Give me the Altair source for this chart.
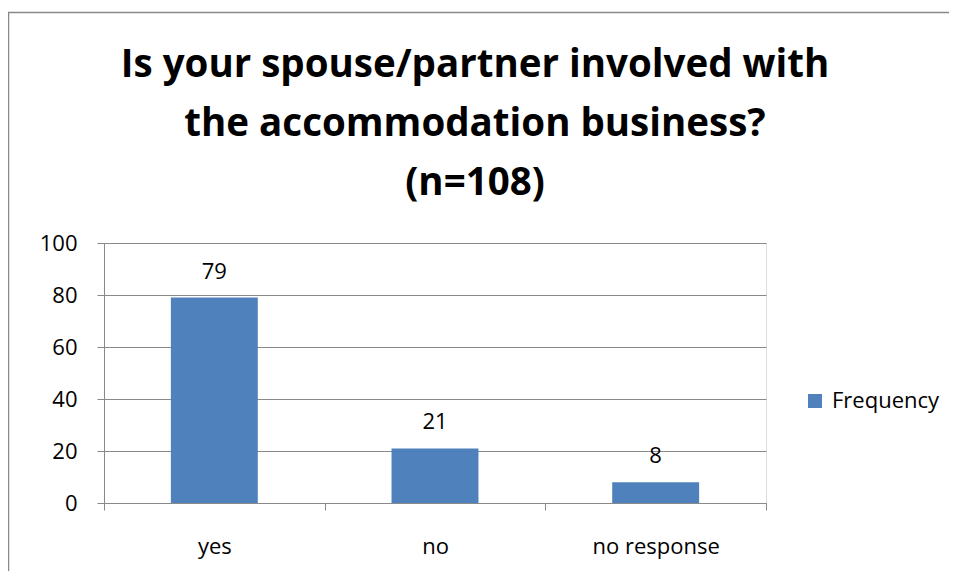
import altair as alt
import pandas as pd

categories = ["yes", "no", "no response"]
frequency = [79, 21, 8]
series_name = "Frequency"
title_lines = ["Is your spouse/partner involved with", "the accommodation business?", "(n=108)"]
y_ticks = [0, 20, 40, 60, 80, 100]

df = pd.DataFrame({"answer": categories, "value": frequency, "series": [series_name] * len(categories)})

FONT = "Open Sans"
GRAY = "#898989"
BAR = "#4F81BD"

base = alt.Chart(df)

x_enc = alt.X(
    "answer:N",
    sort=categories,
    title=None,
    scale=alt.Scale(paddingInner=0, paddingOuter=0),
    axis=alt.Axis(
        labelAngle=0, tickBand="extent", tickSize=7, tickColor=GRAY, domainColor=GRAY,
        labelFontSize=22, labelFont=FONT, labelColor="black", labelPadding=26, grid=False,
    ),
)
y_enc = alt.Y(
    "value:Q",
    title=None,
    scale=alt.Scale(domain=[0, 100]),
    axis=alt.Axis(
        values=y_ticks, tickSize=7, tickColor=GRAY, domainColor=GRAY, gridColor=GRAY,
        labelFontSize=22, labelFont=FONT, labelColor="black", labelPadding=20,
    ),
)

bars = base.mark_bar(width=alt.RelativeBandSize(0.394)).encode(
    x=x_enc,
    y=y_enc,
    color=alt.Color(
        "series:N",
        scale=alt.Scale(range=[BAR]),
        legend=alt.Legend(
            title=None, orient="none", legendX=700, legendY=147, symbolType="square",
            symbolSize=196, symbolStrokeWidth=0, labelFontSize=22, labelFont=FONT,
            labelColor="black", labelOffset=6, padding=0,
        ),
    ),
)

labels = base.mark_text(baseline="alphabetic", dy=-19, fontSize=22, font=FONT, color="black").encode(
    x=alt.X("answer:N", sort=categories),
    y="value:Q",
    text="value:Q",
)

frame_df = pd.DataFrame({"k": [0]})
top_border = alt.Chart(frame_df).mark_rule(color=GRAY, strokeWidth=1.5).encode(
    x=alt.value(-96), x2=alt.value(900), y=alt.value(-230.5)
)
left_border = alt.Chart(frame_df).mark_rule(color=GRAY, strokeWidth=1.5).encode(
    x=alt.value(-95.5), y=alt.value(-231), y2=alt.value(400)
)
title = alt.Chart(frame_df).mark_text(
    text=title_lines, fontSize=38.5, font=FONT, fontWeight="bold", color="black",
    align="center", baseline="top", lineHeight=59,
).encode(x=alt.value(371), y=alt.value(-196))

chart = alt.layer(bars, labels, top_border, left_border, title).properties(
    width=662,
    height=260,
    autosize=alt.AutoSizeParams(type="none"),
    padding={"left": 96, "top": 235, "right": 183, "bottom": 68},
).configure_view(stroke=None).configure(background="white")

chart.save("out.html", embed_options={"renderer": "svg", "actions": False})
